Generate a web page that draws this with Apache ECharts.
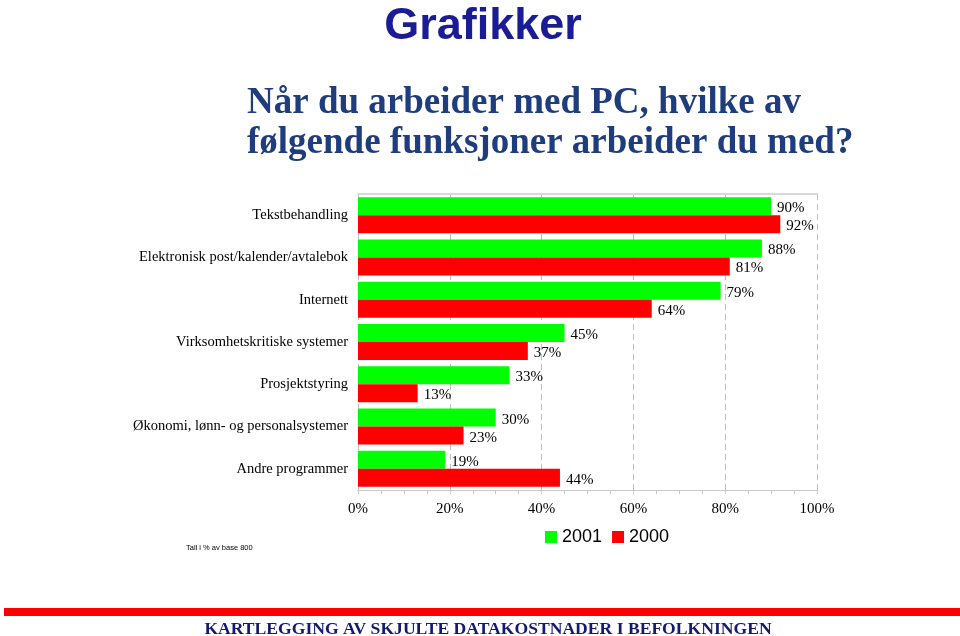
<!DOCTYPE html>
<html>
<head>
<meta charset="utf-8">
<script src="https://cdn.jsdelivr.net/npm/echarts@6/dist/echarts.min.js"></script>
<style>
html, body { margin: 0; padding: 0; background: #fff; }
#main { width: 960px; height: 636px; }
</style>
</head>
<body>
<div id="main"></div>
<script>
var categories = ['Tekstbehandling', 'Elektronisk post/kalender/avtalebok', 'Internett',
	'Virksomhetskritiske systemer', 'Prosjektstyring',
	'Økonomi, lønn- og personalsystemer', 'Andre programmer'];
var values2001 = [90, 88, 79, 45, 33, 30, 19];
var values2000 = [92, 81, 64, 37, 13, 23, 44];
var seriesNames = ['2001', '2000'];
var xTicks = [0, 20, 40, 60, 80, 100];

var serif = '"Liberation Serif", "Times New Roman", serif';
var sans = '"Liberation Sans", Arial, sans-serif';

var barLabel = {
	show : true,
	position : 'right',
	distance : 6,
	offset : [ 0, 2 ],
	formatter : '{c}%',
	color : '#000',
	fontFamily : serif,
	fontSize : 15
};

var option = {
	backgroundColor : '#fff',
	animation : false,
	title : [ {
		text : 'Grafikker',
		left : 478,
		textAlign : 'center',
		top : -1,
		textStyle : {
			fontFamily : sans,
			fontWeight : 'bold',
			fontSize : 45,
			color : '#1b1b95'
		}
	}, {
		text : 'Når du arbeider med PC, hvilke av\nfølgende funksjoner arbeider du med?',
		left : 242,
		top : 78,
		textStyle : {
			fontFamily : serif,
			fontWeight : 'bold',
			fontSize : 37,
			lineHeight : 40,
			color : '#1f3d7d'
		}
	}, {
		text : 'KARTLEGGING AV SKJULTE DATAKOSTNADER I BEFOLKNINGEN',
		left : 483,
		textAlign : 'center',
		top : 615,
		textStyle : {
			fontFamily : serif,
			fontWeight : 'bold',
			fontSize : 17.6,
			color : '#131a6f'
		}
	}, {
		text : 'Tall i % av base 800',
		left : 181,
		top : 539,
		textStyle : {
			fontFamily : sans,
			fontWeight : 'normal',
			fontSize : 7.5,
			color : '#000'
		}
	} ],
	legend : {
		data : seriesNames,
		left : 540,
		top : 523,
		itemWidth : 12,
		itemHeight : 12,
		itemGap : 10,
		icon : 'rect',
		textStyle : {
			fontFamily : sans,
			fontSize : 18,
			color : '#000'
		}
	},
	graphic : [ {
		type : 'rect',
		shape : { x : 4, y : 608, width : 956, height : 8 },
		style : { fill : '#ff0000' }
	} ],
	grid : {
		left : 358,
		right : 143,
		top : 194,
		bottom : 146
	},
	xAxis : [ {
		type : 'value',
		min : xTicks[0],
		max : xTicks[xTicks.length - 1],
		interval : 20,
		axisLine : { show : true, lineStyle : { color : '#c8c8c8' } },
		axisTick : { show : true, length : 4, lineStyle : { color : '#c8c8c8' } },
		minorTick : { show : true, splitNumber : 4, length : 4, lineStyle : { color : '#c8c8c8' } },
		splitLine : { show : true, lineStyle : { color : '#bdbdbd', type : [6, 4] } },
		axisLabel : {
			formatter : '{value}%',
			margin : 12,
			color : '#000',
			fontFamily : serif,
			fontSize : 15
		}
	}, {
		type : 'value',
		position : 'top',
		min : 0,
		max : 100,
		axisLine : { show : true, lineStyle : { color : '#d8d8d8', width : 2 } },
		axisTick : { show : false },
		axisLabel : { show : false },
		splitLine : { show : false }
	} ],
	yAxis : {
		type : 'category',
		data : categories,
		inverse : true,
		axisLine : { show : false },
		axisTick : { show : false },
		axisLabel : {
			margin : 10,
			padding : [ 4, 0, 0, 0 ],
			color : '#000',
			fontFamily : serif,
			fontSize : 14.5
		}
	},
	series : [ {
		name : seriesNames[0],
		type : 'bar',
		data : values2001,
		barWidth : 18,
		barGap : '0%',
		itemStyle : { color : '#00ff00' },
		label : barLabel
	}, {
		name : seriesNames[1],
		type : 'bar',
		data : values2000,
		barWidth : 18,
		barGap : '0%',
		itemStyle : { color : '#ff0000' },
		label : barLabel
	} ]
};

var myChart = echarts.init(document.getElementById('main'));
myChart.setOption(option);
</script>
</body>
</html>
